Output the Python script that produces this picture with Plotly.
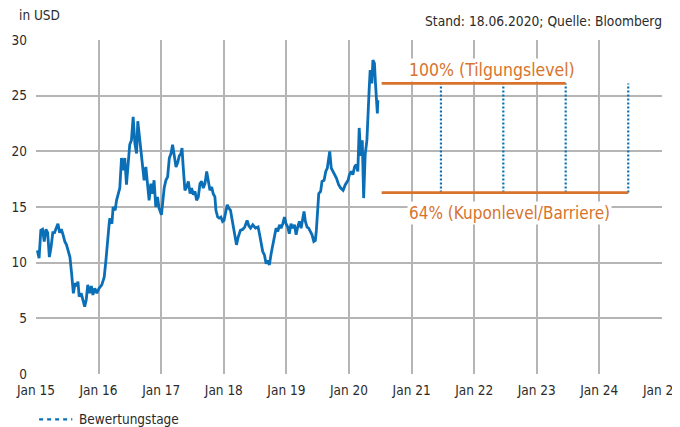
import plotly.graph_objects as go

# ---- data ----
price_dates = [
    "2015-01-09","2015-01-19","2015-01-29","2015-02-08","2015-02-18","2015-02-28","2015-03-10","2015-03-20",
    "2015-03-30","2015-04-09","2015-04-19","2015-04-29","2015-05-09","2015-05-19","2015-05-29","2015-06-08",
    "2015-06-18","2015-06-28","2015-07-08","2015-07-18","2015-07-28","2015-08-07","2015-08-17","2015-08-28",
    "2015-09-03","2015-09-10","2015-09-22","2015-10-03","2015-10-12","2015-10-21","2015-10-30","2015-11-10",
    "2015-11-20","2015-11-29","2015-12-10","2015-12-22",
    "2016-01-04","2016-01-20","2016-02-03","2016-02-13","2016-02-22","2016-03-03","2016-03-07","2016-03-19",
    "2016-03-26","2016-04-07","2016-04-15","2016-04-27","2016-05-04","2016-05-14","2016-05-23","2016-06-02",
    "2016-06-12","2016-06-22","2016-07-01","2016-07-11","2016-07-21","2016-07-31","2016-08-10","2016-08-17",
    "2016-08-25","2016-09-04","2016-09-14","2016-09-23","2016-10-03","2016-10-13","2016-10-22","2016-11-01",
    "2016-11-11","2016-11-20","2016-11-30","2016-12-10","2016-12-19",
    "2017-01-02","2017-01-09","2017-01-18","2017-01-28","2017-02-07","2017-02-17","2017-02-27","2017-03-08",
    "2017-03-18","2017-03-28","2017-04-07","2017-04-16","2017-04-26","2017-05-02","2017-05-09","2017-05-19",
    "2017-05-29","2017-06-08","2017-06-18","2017-06-27","2017-07-07","2017-07-17","2017-07-26","2017-08-05",
    "2017-08-15","2017-08-25","2017-09-03","2017-09-13","2017-09-23","2017-10-02","2017-10-12","2017-10-22",
    "2017-10-31","2017-11-10","2017-11-16","2017-11-26","2017-12-05","2017-12-15","2017-12-25",
    "2018-01-02","2018-01-11","2018-01-21","2018-01-30","2018-02-09","2018-02-19","2018-02-28","2018-03-10",
    "2018-03-16","2018-03-26","2018-04-08","2018-04-22","2018-05-03","2018-05-17","2018-05-27","2018-06-06",
    "2018-06-19","2018-07-05","2018-07-20","2018-07-28","2018-08-07","2018-08-16","2018-08-26","2018-09-05",
    "2018-09-14","2018-09-24","2018-10-04","2018-10-14","2018-10-23","2018-11-02","2018-11-12","2018-11-22",
    "2018-12-01","2018-12-11","2018-12-21","2018-12-30",
    "2019-01-09","2019-01-18","2019-01-28","2019-02-07","2019-02-17","2019-02-27","2019-03-08","2019-03-18",
    "2019-03-28","2019-04-06","2019-04-14","2019-04-22","2019-05-02","2019-05-11","2019-05-21","2019-05-31",
    "2019-06-10","2019-06-19","2019-06-25","2019-07-03","2019-07-09","2019-07-20","2019-07-28","2019-08-09",
    "2019-08-19","2019-08-28","2019-09-11","2019-09-20","2019-09-30","2019-10-10","2019-10-20","2019-11-02",
    "2019-11-14","2019-11-28","2019-12-11","2019-12-27",
    "2020-01-04","2020-01-14","2020-01-24","2020-02-03","2020-02-13","2020-02-22","2020-03-01","2020-03-10",
    "2020-03-19","2020-03-27","2020-04-05","2020-04-15","2020-04-21","2020-04-28","2020-05-04","2020-05-14",
    "2020-05-20","2020-05-29","2020-06-04","2020-06-09","2020-06-12","2020-06-15","2020-06-18",
]
price_values = [
    11.1, 10.4, 12.9, 13.0, 11.9, 13.0, 12.7, 10.5,
    11.4, 12.7, 12.7, 13.2, 13.5, 12.7, 13.0, 12.5,
    11.9, 11.6, 11.1, 10.5, 9.0, 7.25, 8.15, 7.9,
    8.3, 6.95, 7.25, 6.65, 6.05, 6.65, 8.0, 7.25,
    7.9, 7.1, 7.7, 7.25,
    7.7, 8.0, 8.7, 10.2, 12.2, 13.5, 14.0, 13.5,
    15.0, 14.7, 15.6, 16.4, 16.7, 19.4, 18.3, 19.4,
    17.0, 18.9, 20.6, 21.0, 23.1, 20.7, 19.8, 22.7,
    21.6, 20.1, 19.1, 17.4, 18.6, 16.8, 15.6, 17.1,
    16.2, 17.4, 15.0, 15.9, 14.9,
    14.3, 15.3, 16.7, 17.4, 17.7, 19.4, 19.8, 20.6,
    19.5, 18.6, 19.0, 19.6, 19.8, 20.3, 18.6, 16.5,
    16.8, 17.3, 16.2, 16.7, 16.1, 16.4, 15.6, 15.9,
    17.1, 17.3, 16.7, 17.1, 18.2, 17.4, 16.5, 16.8,
    16.2, 15.9, 14.7, 14.1, 14.0, 14.1, 13.7,
    13.8, 14.4, 15.2, 14.9, 14.7, 13.8, 12.9, 12.0,
    11.6, 12.3, 12.9, 13.0, 13.2, 13.8, 13.3, 13.1,
    13.4, 13.1, 13.2, 12.6, 11.7, 11.0, 10.7, 9.9,
    10.2, 9.8, 10.8, 11.7, 12.3, 13.1, 12.8, 13.4,
    13.1, 13.5, 14.1, 13.5,
    13.2, 12.6, 13.5, 13.1, 13.4, 12.5, 13.2, 13.7,
    13.1, 14.0, 14.6, 13.7, 13.2, 13.1, 12.8, 12.5,
    11.9, 12.0, 12.9, 15.0, 16.2, 16.4, 17.3, 17.4,
    18.2, 18.5, 20.0, 18.5, 18.2, 18.0, 17.6, 17.0,
    16.7, 16.5, 17.0, 17.4,
    17.9, 18.2, 17.9, 18.6, 18.8, 18.2, 22.1, 19.6,
    21.0, 15.8, 19.7, 21.0, 23.7, 25.5, 27.3, 26.1,
    28.2, 27.9, 26.1, 24.9, 24.3, 23.4, 24.6,
]

level_100 = 26.1          # Tilgungslevel
level_64 = 16.3           # Kuponlevel / Barriere
level_start = "2020-07-10"
tilgung_end = "2023-06-19"
observation_dates = ["2021-06-21", "2022-06-20", "2023-06-19", "2024-06-18"]

y_ticks = [0, 5, 10, 15, 20, 25, 30]
x_tick_dates = [f"{y}-01-01" for y in range(2015, 2026)]
x_tick_labels = [f"Jan {str(y)[2:]}" for y in range(2015, 2026)]
legend_label = "Bewertungstage"

BLUE = "#0a6fb7"
ORANGE = "#d8732c"
GRID = "#b5b5b5"
TXT = "#2b2b2b"
FONT = "DejaVu Sans Condensed, Liberation Sans Narrow, Arial Narrow, sans-serif"

fig = go.Figure()

# price line
fig.add_trace(go.Scatter(x=price_dates, y=price_values, mode="lines",
                         line=dict(color=BLUE, width=2.8), showlegend=False, hoverinfo="skip"))

# observation dotted lines
vx, vy = [], []
for d in observation_dates:
    vx += [d, d, None]
    vy += [level_64, level_100, None]
fig.add_trace(go.Scatter(x=vx, y=vy, mode="lines", line=dict(color=BLUE, width=2.2, dash="2px,2px"),
                         showlegend=False, hoverinfo="skip", name=legend_label))

# orange levels
fig.add_trace(go.Scatter(x=[level_start, tilgung_end], y=[level_100, level_100], mode="lines",
                         line=dict(color=ORANGE, width=2.7), showlegend=False, hoverinfo="skip"))
fig.add_trace(go.Scatter(x=[level_start, observation_dates[-1]], y=[level_64, level_64], mode="lines",
                         line=dict(color=ORANGE, width=2.7), showlegend=False, hoverinfo="skip"))

fig.add_annotation(x="2020-12-03", y=level_100, xanchor="left", yanchor="bottom", yshift=1, showarrow=False,
                   text="100% (Tilgungslevel)", font=dict(family=FONT, size=17.5, color=ORANGE),
                   bgcolor="white", borderpad=1)
fig.add_annotation(x="2020-12-03", y=level_64, xanchor="left", yanchor="top", yshift=-8, showarrow=False,
                   text="64% (Kuponlevel/Barriere)", font=dict(family=FONT, size=17, color=ORANGE),
                   bgcolor="white", borderpad=1)

fig.add_annotation(xref="paper", yref="paper", x=-0.03, y=1.0, yshift=25, xanchor="left", yanchor="middle",
                   text="in USD", showarrow=False, font=dict(family=FONT, size=13.5, color=TXT))
fig.add_annotation(xref="paper", yref="paper", x=1.003, y=1.0, yshift=19, xanchor="right", yanchor="middle",
                   text="Stand: 18.06.2020; Quelle: Bloomberg", showarrow=False,
                   font=dict(family=FONT, size=13.7, color=TXT))

# manual legend below the plot
fig.add_shape(type="line", xref="paper", yref="paper", x0=0.005, x1=0.058, y0=-0.136, y1=-0.136,
              line=dict(color=BLUE, width=2.2, dash="4px,4px"))
fig.add_annotation(xref="paper", yref="paper", x=0.066, y=-0.136, xanchor="left", yanchor="middle",
                   text=legend_label, showarrow=False, font=dict(family=FONT, size=13.5, color=TXT))

# the page body adds an 8px offset, so the figure is 8px smaller and margins compensate
fig.update_layout(
    width=672, height=419,
    margin=dict(l=28, r=18, t=32, b=53),
    paper_bgcolor="white", plot_bgcolor="white",
    font=dict(family=FONT, size=13.5, color=TXT),
    showlegend=False,
)
fig.update_xaxes(type="date", range=["2015-01-01", "2025-01-01"], tickvals=x_tick_dates,
                 ticktext=x_tick_labels, ticklabeloverflow="allow",
                 showgrid=True, gridcolor=GRID, gridwidth=1.6, zeroline=False, showline=False,
                 ticks="", ticklabelstandoff=6, automargin=False)
fig.update_yaxes(range=[0, 30], tickvals=y_ticks, showgrid=True, gridcolor=GRID, gridwidth=1.6,
                 zeroline=False, showline=False, ticks="", ticklabelstandoff=8, automargin=False)

fig.write_html("out.html")
